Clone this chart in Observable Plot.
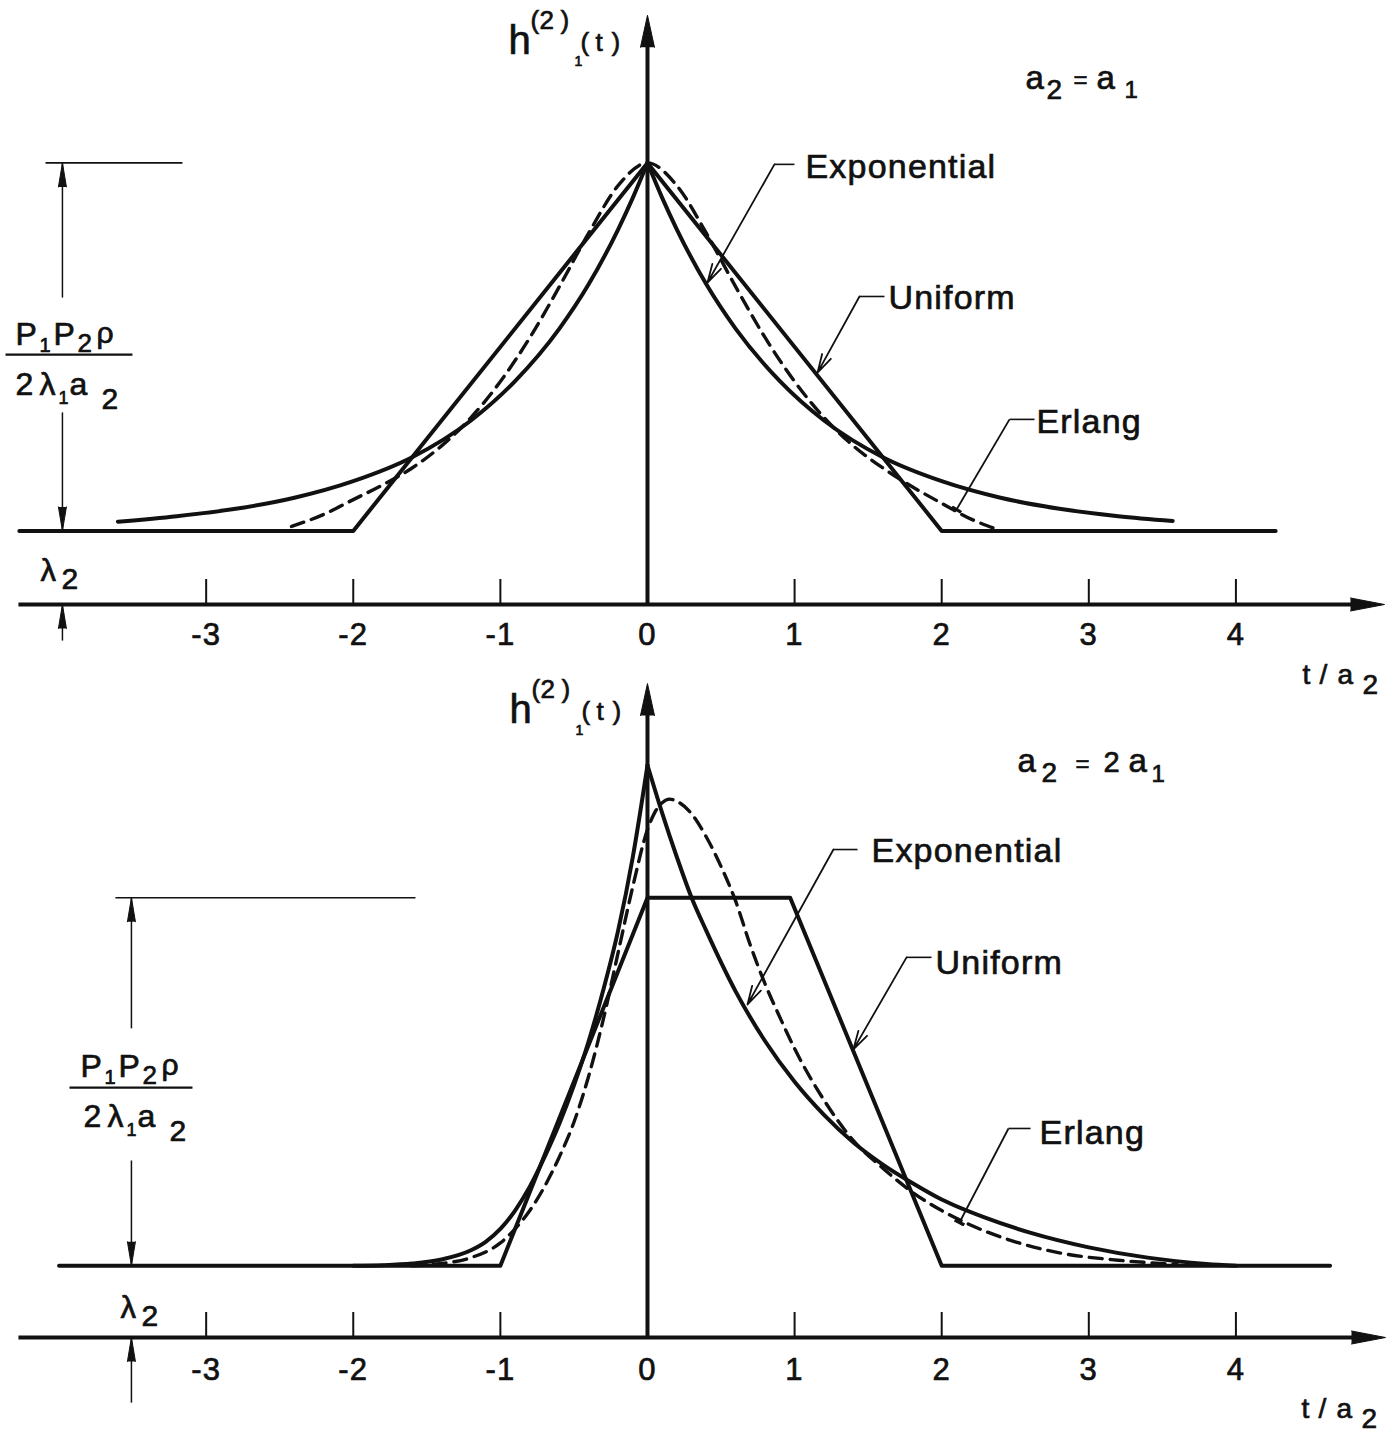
<!DOCTYPE html>
<html><head><meta charset="utf-8">
<script src="https://cdn.jsdelivr.net/npm/d3@7"></script>
<script src="https://cdn.jsdelivr.net/npm/@observablehq/plot@0.6"></script>
<style>
html,body{margin:0;padding:0;background:#fff;}
#fig{position:relative;width:1394px;height:1435px;overflow:hidden;background:#fff;}
#fig svg{position:absolute;left:0;}
#fig svg text{letter-spacing:1.2px;stroke:#111;stroke-width:0.7px;}
</style></head><body><div id="fig"></div>
<script>
const INK = "#111";
const FONT = "'Liberation Sans', Arial, Helvetica, sans-serif";

// ---------- data ----------
const xTicks = [-3, -2, -1, 0, 1, 2, 3, 4];
const curveNames = ["Exponential", "Uniform", "Erlang"];
const topTitle = [["a", 0, 0, 33], ["2", 21, 10, 28], ["=", 48, -1, 24], ["a", 71, 0, 33], ["1", 99, 9, 24]];
const botTitle = [["a", 0, 0, 33], ["2", 24, 10, 28], ["=", 58, 0, 24], ["2", 86, 0, 29], ["a", 111, 0, 33], ["1", 134, 10, 24]];

// top panel: a2 = a1  (values relative to lambda2 baseline, unit = P1P2rho/(2 lambda1 a2))
const topLambda = 0.2;
const topExpT = [-3.6, -3.2, -2.8, -2.4, -2.0, -1.6, -1.2, -0.9, -0.6, -0.4, -0.2, -0.1, 0, 0.1, 0.2, 0.4, 0.6, 0.9, 1.2, 1.6, 2.0, 2.4, 2.8, 3.2, 3.57];
const topExpF = [0.025, 0.04, 0.06, 0.09, 0.135, 0.2, 0.3, 0.407, 0.549, 0.67, 0.819, 0.905, 1, 0.905, 0.819, 0.67, 0.549, 0.407, 0.3, 0.2, 0.135, 0.09, 0.06, 0.04, 0.027];
const topUniT = [-4.27, -2, 0, 2, 4.27];
const topUniF = [0, 0, 1, 0, 0];
const topErlT = [-2.42, -2.2, -2.0, -1.8, -1.6, -1.4, -1.2, -1.0, -0.8, -0.6, -0.4, -0.2, 0, 0.2, 0.4, 0.6, 0.8, 1.0, 1.2, 1.4, 1.6, 1.8, 2.0, 2.2, 2.35];
const topErlF = [0.012, 0.045, 0.085, 0.125, 0.171, 0.231, 0.308, 0.406, 0.525, 0.663, 0.809, 0.938, 1, 0.938, 0.809, 0.663, 0.525, 0.406, 0.308, 0.231, 0.171, 0.12, 0.075, 0.032, 0.008];

// bottom panel: a2 = 2 a1
const botLambda = 0.195;
const botExpT = [-2.0, -1.8, -1.6, -1.4, -1.2, -1.1, -1.0, -0.9, -0.8, -0.7, -0.6, -0.5, -0.4, -0.3, -0.2, -0.1, 0, 0.1, 0.2, 0.3, 0.4, 0.6, 0.8, 1.0, 1.2, 1.4, 1.6, 1.8, 2.0, 2.3, 2.6, 3.0, 3.4, 3.8, 4.0];
const botExpF = [0, 0.0015, 0.006, 0.017, 0.042, 0.065, 0.1, 0.15, 0.215, 0.295, 0.385, 0.49, 0.61, 0.75, 0.91, 1.11, 1.36, 1.23, 1.11, 1.0, 0.91, 0.745, 0.61, 0.5, 0.41, 0.335, 0.275, 0.225, 0.18, 0.13, 0.09, 0.05, 0.022, 0.005, 0];
const botUniT = [-4.0, -1, 0, 0.97, 2, 4.64];
const botUniF = [0, 0, 1, 1, 0, 0];
const botErlT = [-1.6, -1.4, -1.2, -1.0, -0.9, -0.8, -0.7, -0.6, -0.5, -0.4, -0.3, -0.2, -0.1, 0, 0.05, 0.1, 0.15, 0.2, 0.3, 0.4, 0.5, 0.6, 0.7, 0.8, 0.9, 1.0, 1.2, 1.4, 1.6, 1.8, 2.0, 2.2, 2.5, 2.8, 3.2, 3.6];
const botErlF = [0, 0.006, 0.022, 0.062, 0.1, 0.15, 0.215, 0.295, 0.39, 0.515, 0.67, 0.85, 1.03, 1.185, 1.232, 1.258, 1.268, 1.262, 1.228, 1.165, 1.085, 0.99, 0.87, 0.765, 0.675, 0.59, 0.45, 0.34, 0.265, 0.2, 0.15, 0.11, 0.065, 0.035, 0.015, 0.004];

// ---------- helpers ----------
const X_DOMAIN = [-4.398, 5.078];
const Y_PX = 368;

function curveRows(T, F, lambda, split) {
  const out = [];
  T.forEach((t, i) => {
    const v = lambda + F[i];
    if (!split) out.push({t, v, g: "A"});
    else {
      if (t <= 0) out.push({t, v, g: "L"});
      if (t >= 0) out.push({t, v, g: "R"});
    }
  });
  return out;
}
const seg = (x1, y1, x2, y2) => ({x1, y1, x2, y2});
function links(rows, opts = {}) {
  return Plot.link(rows, {x1: "x1", y1: "y1", x2: "x2", y2: "y2", stroke: INK, strokeWidth: 1.5, ...opts});
}
function spike(x, y, rotate, length, r) {
  return Plot.vector([{x, y}], {x: "x", y: "y", rotate, length, r, shape: "spike", anchor: "end", fill: INK, stroke: INK, strokeWidth: 1});
}
function rich(x, y, parts) {
  return parts.map(([s, dx, dy, size]) => Plot.text([{x, y, s}], {
    x: "x", y: "y", text: "s", dx, dy, fontSize: size, textAnchor: "start", lineAnchor: "bottom", fill: INK
  }));
}
const hLabel = [["h", 0, 0, 40], ["(", 22, -25, 26], ["2", 31, -25, 26], [")", 52, -25, 26], ["1", 66, 12, 14], ["(", 72, -3, 26], ["t", 87, -3, 26], [")", 103, -3, 26]];
const numer = [["P", 0, 0, 32], ["1", 24, 7, 20], ["P", 38, 0, 32], ["2", 62, 7, 26], ["ρ", 81, -2, 30]];
const denom = [["2", 0, 0, 32], ["λ", 24, 0, 32], ["1", 43, 9, 18], ["a", 54, 0, 32], ["2", 86, 14, 30]];
const lam2 = [["λ", 0, 0, 31], ["2", 21, 8, 30]];
const tOverA = [["t", 0, 0, 28], ["/", 17, 0, 28], ["a", 35, 0, 28], ["2", 60, 10, 28]];

function panel(c) {
  const L = c.lambda;
  const marks = [
    // x axis with arrow
    links([seg(-4.276, 0, c.xTip - 0.15, 0)], {strokeWidth: 4}),
    spike(c.xTip, 0, 90, 34, 6.5),
    // y axis with arrow
    links([seg(0, 0, 0, c.yTip - 0.06)], {strokeWidth: 4}),
    spike(0, c.yTip, 0, 32, 7),
    // ticks (upward) and labels
    Plot.ruleX(xTicks, {y1: () => 0, y2: () => 25 / Y_PX, stroke: INK, strokeWidth: 2}),
    Plot.axisX({ticks: xTicks, tickSize: 0, tickPadding: c.tickPad, fontSize: 31, tickFormat: d => String(d), label: null, fill: INK}),
    // curves
    Plot.line(curveRows(c.uniT, c.uniF, L, false), {x: "t", y: "v", z: "g", stroke: INK, strokeWidth: 4, strokeLinejoin: "round"}),
    Plot.line(curveRows(c.expT, c.expF, L, true), {x: "t", y: "v", z: "g", curve: "monotone-x", stroke: INK, strokeWidth: 4}),
    Plot.line(curveRows(c.erlT, c.erlF, L, false), {x: "t", y: "v", z: "g", curve: "monotone-x", stroke: INK, strokeWidth: 3.4, strokeDasharray: "13,8"}),
    // dimension annotation on the left
    links([seg(c.dim.h1, c.peak, c.dim.h2, c.peak)], {strokeWidth: 1.6}),
    links([seg(c.dim.x, c.peak, c.dim.x, c.dim.gapTop), seg(c.dim.x, c.dim.gapBot, c.dim.x, L), seg(c.dim.x, c.dim.below, c.dim.x, 0)], {strokeWidth: 1.5}),
    spike(c.dim.x, c.peak, 0, 24, 4),
    spike(c.dim.x, L, 180, 24, 4),
    spike(c.dim.x, 0, 0, 24, 4),
    links([seg(c.bar.x1, c.bar.v, c.bar.x2, c.bar.v)], {strokeWidth: 2.4}),
    ...rich(c.numer[0], c.numer[1], numer),
    ...rich(c.denom[0], c.denom[1], denom),
    ...rich(c.lam[0], c.lam[1], lam2),
    ...rich(c.h[0], c.h[1], hLabel),
    ...rich(c.title[0], c.title[1], c.titleParts),
    ...rich(c.tlab[0], c.tlab[1], tOverA),
    // curve names with leaders
    Plot.text(curveNames.map((s, i) => ({s, x: c.words[i][0], y: c.words[i][1]})), {
      x: "x", y: "y", text: "s", fontSize: 34, textAnchor: "start", lineAnchor: "bottom", fill: INK
    }),
    links(c.leaders.map(l => seg(l[0], l[1], l[2], l[1])), {strokeWidth: 1.6}),
    Plot.arrow(c.leaders.slice(0, 2).map(l => seg(l[2], l[1], l[3], l[4])), {x1: "x1", y1: "y1", x2: "x2", y2: "y2", stroke: INK, strokeWidth: 1.8, headLength: 16, headAngle: 30}),
    links([seg(c.leaders[2][2], c.leaders[2][1], c.leaders[2][3], c.leaders[2][4])], {strokeWidth: 1.8, markerEnd: "tick"})
  ];
  const svg = Plot.plot({
    width: 1394, height: c.height,
    marginTop: 0, marginRight: 0, marginLeft: 0, marginBottom: c.marginBottom,
    x: {domain: X_DOMAIN},
    y: {domain: [0, c.ymax], axis: null},
    style: {fontFamily: FONT, background: "transparent", overflow: "visible", color: INK},
    marks
  });
  svg.style.top = c.top + "px";
  return svg;
}

const fig = document.getElementById("fig");
fig.append(panel({
  top: 0, height: 700, marginBottom: 96, ymax: 604 / Y_PX, lambda: topLambda, tickPad: 18,
  xTip: 5.01, yTip: 1.601, peak: 1.2,
  expT: topExpT, expF: topExpF, uniT: topUniT, uniF: topUniF, erlT: topErlT, erlF: topErlF,
  dim: {x: -3.977, h1: -4.092, h2: -3.161, gapTop: 0.834, gapBot: 0.522, below: -0.098},
  bar: {x1: -4.364, x2: -3.501, v: 0.679},
  numer: [-4.296, 0.704], denom: [-4.296, 0.57], lam: [-4.126, 0.065],
  h: [-0.945, 1.497], title: [2.57, 1.402], titleParts: topTitle, tlab: [4.453, -0.215],
  words: [[1.074, 1.16], [1.638, 0.802], [2.644, 0.465]],
  leaders: [[0.999, 1.196, 0.863, 0.408, 0.875], [1.611, 0.837, 1.441, 1.156, 0.63], [2.631, 0.503, 2.461, 2.101, 0.258]]
}));
fig.append(panel({
  top: 660, height: 775, marginBottom: 98, ymax: 677 / Y_PX, lambda: botLambda, tickPad: 20,
  xTip: 5.017, yTip: 1.777, peak: 1.195,
  expT: botExpT, expF: botExpF, uniT: botUniT, uniF: botUniF, erlT: botErlT, erlF: botErlF,
  dim: {x: -3.508, h1: -3.617, h2: -1.577, gapTop: 0.84, gapBot: 0.481, below: -0.177},
  bar: {x1: -3.929, x2: -3.093, v: 0.679},
  numer: [-3.855, 0.709], denom: [-3.834, 0.573], lam: [-3.583, 0.052],
  h: [-0.938, 1.671], title: [2.515, 1.538], titleParts: botTitle, tlab: [4.446, -0.22],
  words: [[1.523, 1.291], [1.958, 0.989], [2.665, 0.527]],
  leaders: [[1.428, 1.326, 1.264, 0.68, 0.905], [1.931, 1.033, 1.761, 1.4, 0.783], [2.604, 0.568, 2.454, 2.121, 0.3125]]
}));
</script></body></html>
